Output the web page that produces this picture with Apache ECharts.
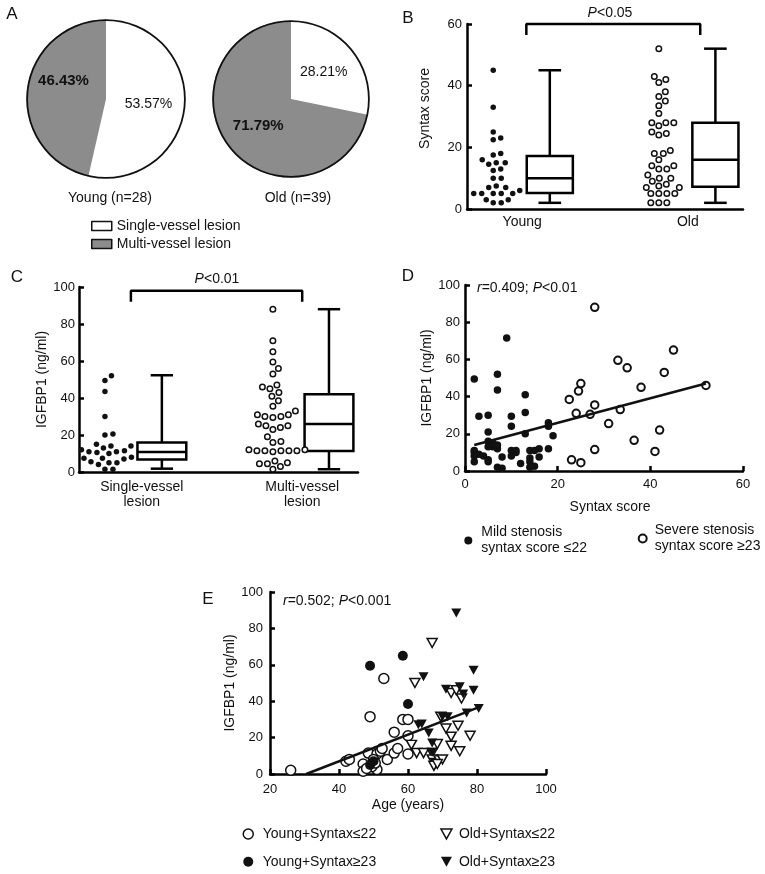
<!DOCTYPE html>
<html>
<head>
<meta charset="utf-8">
<script src="https://cdn.jsdelivr.net/npm/echarts@6/dist/echarts.min.js"></script>
<style>
  html, body { margin: 0; padding: 0; background: #fff; }
  #chart { width: 765px; height: 874px; }
</style>
</head>
<body>
<div id="chart"></div>
<script>
// ---- data ----
const pieNames = ["Single-vessel lesion", "Multi-vessel lesion"];
const pieYoung = [53.57, 46.43];
const pieOld = [28.21, 71.79];
const pieTitles = ["Young (n=28)", "Old (n=39)"];

// B: syntax score by age group
const groupsB = ["Young", "Old"];
const syntaxYoung = [45, 33, 25, 23, 22.5, 18, 17.5, 16, 15, 15, 14.5, 13, 12.5, 10, 10,
  7.5, 7, 7, 6, 5, 5, 5, 5, 5, 3, 3, 2, 2];
const syntaxOld = [52, 43, 42, 41, 38, 36.5, 35, 33.5, 31, 28, 28, 28, 27, 25, 24.5, 24,
  19, 18, 18, 16, 14, 14, 13, 13, 11, 10, 10, 9, 8, 7.5, 7, 7, 5, 5, 5, 5, 2, 2, 2];
// min, q1, median, q3, max
const boxSyntaxYoung = [2, 5.2, 10, 17.2, 45];
const boxSyntaxOld = [2, 7.2, 16, 28, 52];

// C: IGFBP1 by lesion type
const groupsC = ["Single-vessel\nlesion", "Multi-vessel\nlesion"];
const igfSingle = [52, 49.5, 43.5, 30, 20.5, 20, 15, 14, 14, 13, 12, 11.5, 11, 11, 10.5, 10,
  8, 7.5, 7.5, 7, 5.5, 5, 5, 4, 1.5, 1.5];
const igfMulti = [88, 71, 65, 59.5, 56, 53, 47, 46, 45, 43, 41, 38.5, 35.5, 33, 31, 31, 30, 30,
  29.5, 26, 25, 25, 24, 23, 19, 16.5, 16, 12, 12, 11.5, 11.5, 11.5, 11.5, 11.5, 11, 6, 5, 4.5,
  4.5, 3, 1.5];
const boxIgfSingle = [1.8, 6.7, 10.8, 16, 52.3];
const boxIgfMulti = [1.5, 11.4, 26, 42, 88];

// D: syntax score vs IGFBP1
const mildD = [[2, 49.5], [9, 71.5], [7, 52], [7, 43.5], [13, 41], [13, 31.5], [3, 29.5],
  [5, 30], [10, 29.5], [10, 24], [13, 20], [5, 21], [18, 26], [18, 24], [19, 19], [5, 16],
  [6, 13], [6, 15], [7, 12], [7, 14], [5, 13], [2, 11], [2, 8], [2, 5], [3, 9], [2, 10],
  [8, 7.5], [10, 11], [11, 11], [10, 8], [11, 10], [14, 11], [15, 11], [16, 12], [18, 12],
  [14, 7], [16, 7.5], [12, 4], [14, 5], [14, 2], [7, 2], [8, 1.5], [5, 5], [5, 6], [15, 2.5],
  [4, 8]];
const severeD = [[22.5, 38.5], [24, 31], [24.5, 43], [25, 47], [25, 4.5], [23, 6], [27, 30.5],
  [28, 35.5], [28, 11.5], [28, 88], [31, 25.5], [33, 59.5], [33.5, 33], [35, 55.5],
  [36.5, 16.5], [38, 45], [41, 10.5], [42, 22], [43, 53], [45, 65], [52, 46]];
const fitD = [[2, 14], [52, 47]];

// E: age vs IGFBP1
const youngLowE = [[26, 2], [42, 7], [43, 8], [47, 5.5], [47, 1.5], [49, 31.5], [53, 52.5],
  [48.5, 11.5], [51, 11], [52, 12.5], [52.5, 14], [51, 2.5], [54, 8], [56, 23], [56, 11.5],
  [57, 14], [58.5, 30], [60, 30], [60, 21], [60, 11], [50, 8], [49.5, 4], [50.5, 6], [48, 3]];
const youngHighE = [[49, 59.5], [58.5, 65], [60, 38.5], [49, 5], [50, 7]];
const oldLowE = [[67, 72], [62, 50], [72.5, 44.5], [74, 46], [75.5, 41.5], [69.5, 31.5],
  [71, 25], [72.5, 20.5], [74.5, 26.5], [78, 21], [72.5, 15.5], [75, 12.5], [61, 16],
  [62.5, 11.5], [64.5, 11.5], [67, 11.5], [68.5, 16.5], [67, 8], [68, 6], [69, 7.5], [70, 8],
  [67.5, 4.5], [68.5, 5.5]];
const oldHighE = [[74, 88.5], [79, 57], [64.5, 53.5], [71, 46.5], [75, 48], [79, 46], [76, 44],
  [70, 31.5], [71.5, 31.5], [63, 27], [64, 27.5], [66, 22.5], [67, 17], [67, 12], [77, 33.5],
  [80.5, 36]];
const fitE = [[30.5, 0], [81, 37]];
const seriesNamesE = ["Young+Syntax≤22", "Young+Syntax≥23", "Old+Syntax≤22", "Old+Syntax≥23"];

// ---- layout ----
const FONT = "Liberation Sans, Arial, Helvetica, sans-serif";
const INK = "#111";
const GRAY = "#8c8c8c";
const TRI = "path://M0,0L10,0L5,9Z";

const gB = { left: 467, top: 24, width: 276, height: 185 };
const gC = { left: 79, top: 287, width: 279, height: 185 };
const gD = { left: 465, top: 285, width: 278, height: 186 };
const gE = { left: 270, top: 592, width: 276, height: 182 };

// simple beeswarm: spread points sideways so they don't overlap (in pixels)
function swarm(values, cx, g, xSpan, ySpan, gap) {
  const sx = g.width / xSpan;
  const sy = g.height / ySpan;
  const placed = [];
  const out = [];
  values.slice().sort((a, b) => a - b).forEach(v => {
    const py = v * sy;
    for (let k = 0; k < 400; k++) {
      const off = (k % 2 ? 1 : -1) * Math.ceil(k / 2) * 0.5;
      const free = placed.every(p => (p[0] - off) ** 2 + (p[1] - py) ** 2 >= gap * gap);
      if (free) {
        placed.push([off, py]);
        out.push([cx + off / sx, v]);
        break;
      }
    }
  });
  return out;
}

function boxSeries(xi, items, boxW, capW) {
  return {
    type: "custom",
    xAxisIndex: xi,
    yAxisIndex: xi,
    silent: true,
    encode: { x: 0, y: [1, 2, 3, 4, 5] },
    data: items,
    renderItem: (params, api) => {
      const x = api.value(0);
      const cx = api.coord([x, 0])[0];
      const yMin = api.coord([x, api.value(1)])[1];
      const yQ1 = api.coord([x, api.value(2)])[1];
      const yMed = api.coord([x, api.value(3)])[1];
      const yQ3 = api.coord([x, api.value(4)])[1];
      const yMax = api.coord([x, api.value(5)])[1];
      const w = api.size([boxW, 0])[0];
      const cw = api.size([capW, 0])[0];
      const st = { stroke: "#000", lineWidth: 2.5, fill: null };
      return {
        type: "group",
        children: [
          { type: "line", shape: { x1: cx, y1: yMax, x2: cx, y2: yQ3 }, style: st },
          { type: "line", shape: { x1: cx, y1: yQ1, x2: cx, y2: yMin }, style: st },
          { type: "line", shape: { x1: cx - cw / 2, y1: yMax, x2: cx + cw / 2, y2: yMax }, style: st },
          { type: "line", shape: { x1: cx - cw / 2, y1: yMin, x2: cx + cw / 2, y2: yMin }, style: st },
          { type: "rect", shape: { x: cx - w / 2, y: yQ3, width: w, height: yQ1 - yQ3 },
            style: { fill: "#fff", stroke: "#000", lineWidth: 2.5 } },
          { type: "line", shape: { x1: cx - w / 2, y1: yMed, x2: cx + w / 2, y2: yMed }, style: st }
        ]
      };
    }
  };
}

function bracket(xi, b) {
  return {
    type: "line",
    xAxisIndex: xi,
    yAxisIndex: xi,
    clip: false,
    symbol: "none",
    silent: true,
    lineStyle: { color: "#000", width: 2.5 },
    data: [[b.x1, b.y - b.drop], [b.x1, b.y], [b.x2, b.y], [b.x2, b.y - b.drop]]
  };
}

const bracketB = { x1: 2.15, x2: 8.45, y: 60, drop: 3.6 };
const bracketC = { x1: 1.86, x2: 8.0, y: 98, drop: 6 };

const axisLine = { show: true, onZero: false, lineStyle: { color: "#000", width: 2.5 } };
const tickIn = { show: true, inside: true, length: 5, lineStyle: { color: "#000", width: 2.5 } };
const lbl = { color: INK, fontSize: 13, fontFamily: FONT };
const nameStyle = { color: INK, fontSize: 14, fontFamily: FONT };
const solid = { color: INK, opacity: 1 };
const hollow = { color: "#fff", borderColor: INK, borderWidth: 1.5, opacity: 1 };

function pieData(vals, liftGray) {
  return vals.map((v, i) => ({
    name: pieNames[i],
    value: v,
    itemStyle: { color: i ? GRAY : "#fff" },
    // the gray label of the left pie sits higher than the slice centre
    label: i ? Object.assign({ fontWeight: "bold", fontSize: 15 },
      liftGray ? { formatter: "{c}%\n\n", lineHeight: 13 } : {}) : {}
  }));
}

function pieSeries(center, r, vals, liftGray) {
  return [{
    type: "pie",
    center: center,
    radius: [0, r],
    startAngle: 90,
    clockwise: true,
    avoidLabelOverlap: false,
    silent: true,
    itemStyle: { borderWidth: 0 },
    label: { show: true, position: "inside", formatter: "{c}%", color: INK, fontSize: 14, fontFamily: FONT },
    labelLine: { show: false },
    data: pieData(vals, liftGray)
  }, {
    type: "pie",
    center: center,
    radius: [r - 1.5, r + 0.3],
    silent: true,
    label: { show: false },
    labelLine: { show: false },
    itemStyle: { color: INK, borderWidth: 0 },
    data: [{ name: "outline", value: 1 }]
  }];
}

function txt(x, y, text, extra) {
  return {
    type: "text", x: x, y: y, silent: true,
    style: Object.assign({
      text: text, align: "center", verticalAlign: "middle",
      fontSize: 14, fontFamily: FONT, fill: INK,
      rich: { i: { fontStyle: "italic", fontSize: 14, fontFamily: FONT, fill: INK } }
    }, extra || {})
  };
}

const legendText = { color: INK, fontSize: 14, lineHeight: 16, fontFamily: FONT };

const chart = echarts.init(document.getElementById("chart"), null, { renderer: "canvas" });

const option = {
  animation: false,
  backgroundColor: "#fff",
  grid: [gB, gC, gD, gE],
  legend: [
    {
      data: pieNames.map((n, i) => ({
        name: n, icon: "rect",
        itemStyle: { color: i ? GRAY : "#fff", borderColor: INK, borderWidth: 1.5 }
      })),
      orient: "vertical", left: 91, top: 219, padding: 0, itemWidth: 20, itemHeight: 9, itemGap: 4,
      selectedMode: false, textStyle: { color: INK, fontSize: 14, lineHeight: 14, fontFamily: FONT }
    },
    {
      data: [{ name: "Mild stenosis", icon: "circle", itemStyle: { color: INK, borderWidth: 0, opacity: 1 } }],
      left: 464.3, top: 524.5, padding: 0, itemWidth: 8, itemHeight: 8, selectedMode: false,
      formatter: () => "Mild stenosis\nsyntax score ≤22",
      textStyle: Object.assign({ padding: [0, 0, 0, 4] }, legendText)
    },
    {
      data: [{ name: "Severe stenosis", icon: "circle",
        itemStyle: { color: "#fff", borderColor: INK, borderWidth: 2, opacity: 1 } }],
      left: 637.7, top: 522.5, padding: 0, itemWidth: 8, itemHeight: 8, selectedMode: false,
      formatter: () => "Severe stenosis\nsyntax score ≥23",
      textStyle: Object.assign({ padding: [0, 0, 0, 3] }, legendText)
    },
    {
      data: [
        { name: seriesNamesE[0], icon: "circle", itemStyle: hollow },
        { name: seriesNamesE[1], icon: "circle", itemStyle: Object.assign({ borderWidth: 0 }, solid) }
      ],
      orient: "vertical", left: 242.5, top: 826, padding: 0, itemWidth: 11, itemHeight: 10, itemGap: 11.7,
      selectedMode: false,
      textStyle: Object.assign({ padding: [0, 0, 0, 4] }, legendText)
    },
    {
      data: [
        { name: seriesNamesE[2], icon: TRI, itemStyle: hollow },
        { name: seriesNamesE[3], icon: TRI, itemStyle: Object.assign({ borderWidth: 0 }, solid) }
      ],
      orient: "vertical", left: 440.2, top: 826, padding: 0, itemWidth: 11, itemHeight: 10, itemGap: 11.7,
      selectedMode: false,
      textStyle: Object.assign({ padding: [0, 0, 0, 2] }, legendText)
    }
  ],
  xAxis: [
    {
      gridIndex: 0, type: "value", min: 0, max: 10, interval: 1,
      axisLine: axisLine, axisTick: { show: false }, splitLine: { show: false },
      axisLabel: Object.assign({}, lbl, { fontSize: 14, margin: 6,
        formatter: v => v === 2 ? groupsB[0] : v === 8 ? groupsB[1] : "" })
    },
    {
      gridIndex: 1, type: "value", min: 0, max: 10, interval: 0.25,
      axisLine: axisLine, axisTick: { show: false }, splitLine: { show: false },
      axisLabel: Object.assign({}, lbl, { fontSize: 14, lineHeight: 15, margin: 8,
        formatter: v => v === 2.25 ? groupsC[0] : v === 8 ? groupsC[1] : "" })
    },
    {
      gridIndex: 2, type: "value", min: 0, max: 60, interval: 20,
      axisLine: axisLine, axisTick: tickIn, splitLine: { show: false },
      axisLabel: Object.assign({}, lbl, { margin: 7 }),
      name: "Syntax score", nameLocation: "middle", nameGap: 29,
      nameTextStyle: Object.assign({}, nameStyle, { padding: [0, 0, 0, 12] })
    },
    {
      gridIndex: 3, type: "value", min: 20, max: 100, interval: 20,
      axisLine: axisLine, axisTick: tickIn, splitLine: { show: false },
      axisLabel: Object.assign({}, lbl, { margin: 9 }),
      name: "Age (years)", nameLocation: "middle", nameGap: 24,
      nameTextStyle: nameStyle
    }
  ],
  yAxis: [
    {
      gridIndex: 0, type: "value", min: 0, max: 60, interval: 20,
      axisLine: axisLine, axisTick: tickIn, splitLine: { show: false },
      axisLabel: Object.assign({}, lbl, { margin: 5 }),
      name: "Syntax score", nameLocation: "middle", nameGap: 35,
      nameTextStyle: Object.assign({}, nameStyle, { padding: [0, 0, 0, 16] })
    },
    {
      gridIndex: 1, type: "value", min: 0, max: 100, interval: 20,
      axisLine: axisLine, axisTick: tickIn, splitLine: { show: false },
      axisLabel: Object.assign({}, lbl, { margin: 4 }),
      name: "IGFBP1 (ng/ml)", nameLocation: "middle", nameGap: 25, nameTextStyle: nameStyle
    },
    {
      gridIndex: 2, type: "value", min: 0, max: 100, interval: 20,
      axisLine: axisLine, axisTick: tickIn, splitLine: { show: false },
      axisLabel: Object.assign({}, lbl, { margin: 5 }),
      name: "IGFBP1 (ng/ml)", nameLocation: "middle", nameGap: 30, nameTextStyle: nameStyle
    },
    {
      gridIndex: 3, type: "value", min: 0, max: 100, interval: 20,
      axisLine: axisLine, axisTick: tickIn, splitLine: { show: false },
      axisLabel: Object.assign({}, lbl, { margin: 7 }),
      name: "IGFBP1 (ng/ml)", nameLocation: "middle", nameGap: 32, nameTextStyle: nameStyle
    }
  ],
  series: [
    ...pieSeries([106, 99], 79.5, pieYoung, true),
    ...pieSeries([291, 99], 78.5, pieOld, false),

    // B
    boxSeries(0, [[3].concat(boxSyntaxYoung), [9].concat(boxSyntaxOld)], 1.67, 0.82),
    {
      type: "scatter", xAxisIndex: 0, yAxisIndex: 0, symbol: "circle", symbolSize: 5.5, silent: true,
      itemStyle: solid, data: swarm(syntaxYoung, 0.95, gB, 10, 60, 7.6)
    },
    {
      type: "scatter", xAxisIndex: 0, yAxisIndex: 0, symbol: "circle", symbolSize: 5.5, silent: true,
      itemStyle: hollow, data: swarm(syntaxOld, 6.95, gB, 10, 60, 7.6)
    },
    bracket(0, bracketB),

    // C
    boxSeries(1, [[2.97].concat(boxIgfSingle), [8.96].concat(boxIgfMulti)], 1.75, 0.8),
    {
      type: "scatter", xAxisIndex: 1, yAxisIndex: 1, symbol: "circle", symbolSize: 5.5, silent: true,
      itemStyle: solid, data: swarm(igfSingle, 0.93, gC, 10, 100, 7.6)
    },
    {
      type: "scatter", xAxisIndex: 1, yAxisIndex: 1, symbol: "circle", symbolSize: 5.5, silent: true,
      itemStyle: hollow, data: swarm(igfMulti, 6.95, gC, 10, 100, 7.6)
    },
    bracket(1, bracketC),

    // D
    {
      name: "Mild stenosis", type: "scatter", xAxisIndex: 2, yAxisIndex: 2, symbol: "circle",
      symbolSize: 7.5, silent: true, itemStyle: solid, data: mildD
    },
    {
      name: "Severe stenosis", type: "scatter", xAxisIndex: 2, yAxisIndex: 2, symbol: "circle",
      symbolSize: 7.5, silent: true, itemStyle: Object.assign({}, hollow, { borderWidth: 2 }),
      data: severeD
    },
    {
      type: "line", xAxisIndex: 2, yAxisIndex: 2, symbol: "none", silent: true,
      lineStyle: { color: INK, width: 2.5 }, data: fitD
    },

    // E
    {
      name: seriesNamesE[0], type: "scatter", xAxisIndex: 3, yAxisIndex: 3, symbol: "circle",
      symbolSize: 10, silent: true, itemStyle: hollow, data: youngLowE
    },
    {
      name: seriesNamesE[2], type: "scatter", xAxisIndex: 3, yAxisIndex: 3, symbol: TRI,
      symbolSize: [10, 9], silent: true, itemStyle: hollow, data: oldLowE
    },
    {
      name: seriesNamesE[1], type: "scatter", xAxisIndex: 3, yAxisIndex: 3, symbol: "circle",
      symbolSize: 10, silent: true, itemStyle: solid, data: youngHighE
    },
    {
      name: seriesNamesE[3], type: "scatter", xAxisIndex: 3, yAxisIndex: 3, symbol: TRI,
      symbolSize: [10, 9], silent: true, itemStyle: solid, data: oldHighE
    },
    {
      type: "line", xAxisIndex: 3, yAxisIndex: 3, symbol: "none", silent: true,
      lineStyle: { color: INK, width: 2.5 }, data: fitE
    }
  ],
  graphic: [
    txt(12, 14, "A", { fontSize: 17 }),
    txt(408, 18, "B", { fontSize: 17 }),
    txt(17, 277, "C", { fontSize: 17 }),
    txt(408, 276, "D", { fontSize: 17 }),
    txt(208, 599, "E", { fontSize: 17 }),
    txt(110, 198, pieTitles[0]),
    txt(298, 198, pieTitles[1]),
    txt(610, 13, "{i|P}<0.05"),
    txt(217, 279, "{i|P}<0.01"),
    txt(477, 288, "{i|r}=0.409; {i|P}<0.01", { align: "left" }),
    txt(283, 601, "{i|r}=0.502; {i|P}<0.001", { align: "left" })
  ]
};

chart.setOption(option);
</script>
</body>
</html>
